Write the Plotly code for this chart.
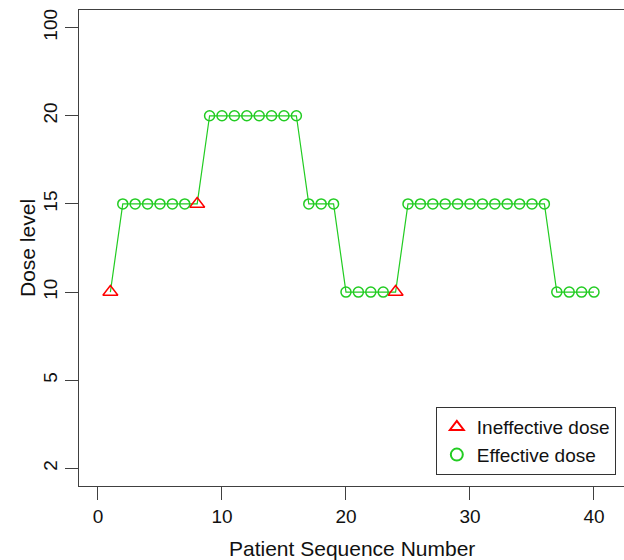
import plotly.graph_objects as go

# ---- data ----
dose_levels = ["2", "5", "10", "15", "20", "100"]
patients = list(range(1, 41))
doses = [10, 15, 15, 15, 15, 15, 15, 15,
         20, 20, 20, 20, 20, 20, 20, 20,
         15, 15, 15,
         10, 10, 10, 10, 10,
         15, 15, 15, 15, 15, 15, 15, 15, 15, 15, 15, 15,
         10, 10, 10, 10]
ineffective_patients = [1, 8, 24]
x_ticks = [0, 10, 20, 30, 40]

dose_str = [str(d) for d in doses]
ineff_x = [p for p in patients if p in ineffective_patients]
ineff_y = [str(doses[p - 1]) for p in ineff_x]
eff_x = [p for p in patients if p not in ineffective_patients]
eff_y = [str(doses[p - 1]) for p in eff_x]

GREEN = "#22CC22"
RED = "#FF0000"
FONT = "Liberation Sans"
TXT = "#111111"

fig = go.Figure()
fig.add_trace(go.Scatter(x=patients, y=dose_str, mode="lines",
                         line=dict(color=GREEN, width=1.2),
                         showlegend=False, hoverinfo="skip"))
fig.add_trace(go.Scatter(x=ineff_x, y=ineff_y, mode="markers",
                         name="Ineffective dose",
                         marker=dict(symbol="triangle-up-open", size=13,
                                     color=RED, line=dict(width=1.5, color=RED))))
fig.add_trace(go.Scatter(x=eff_x, y=eff_y, mode="markers",
                         name="Effective dose",
                         marker=dict(symbol="circle-open", size=10,
                                     color=GREEN, line=dict(width=1.5, color=GREEN))))

fig.update_layout(
    width=624, height=560,
    margin=dict(l=79, r=0, t=10, b=74, autoexpand=False),
    paper_bgcolor="white", plot_bgcolor="white",
    font=dict(family=FONT, size=19, color=TXT),
    legend=dict(x=0.985, y=0.023, xanchor="right", yanchor="bottom",
                bordercolor="#333", borderwidth=1, bgcolor="white",
                font=dict(size=19, family=FONT, color=TXT),
                tracegroupgap=0, itemsizing="constant"),
    annotations=[
        dict(text="Patient Sequence Number", xref="paper", yref="paper",
             x=0.5, y=0, yshift=-62, xanchor="center", yanchor="middle",
             showarrow=False, font=dict(size=21, family=FONT, color=TXT)),
        dict(text="Dose level", xref="paper", yref="paper",
             x=0, xshift=-52, y=0.5, xanchor="center", yanchor="middle",
             textangle=-90, showarrow=False,
             font=dict(size=21, family=FONT, color=TXT)),
    ],
)
fig.update_xaxes(
    range=[-1.53, 42.42], tickvals=x_ticks, showgrid=False, zeroline=False,
    automargin=False,
    showline=True, mirror=True, linecolor="#404040", linewidth=1.2,
    ticks="outside", ticklen=13, tickcolor="#404040", tickwidth=1.2,
    tickfont=dict(size=19, family=FONT, color=TXT),
)
fig.update_yaxes(
    type="category", categoryorder="array", categoryarray=dose_levels,
    range=[-0.2, 5.2], showgrid=False, zeroline=False, automargin=False,
    showline=True, mirror=False, linecolor="#404040", linewidth=1.2,
    ticks="outside", ticklen=13, tickcolor="#404040", tickwidth=1.2,
    tickangle=-90,
    tickfont=dict(size=19, family=FONT, color=TXT),
)

fig.write_html("out.html",
               config={"displayModeBar": False},
               post_script="document.body.style.margin='0';"
                           "document.body.style.overflow='hidden';")
